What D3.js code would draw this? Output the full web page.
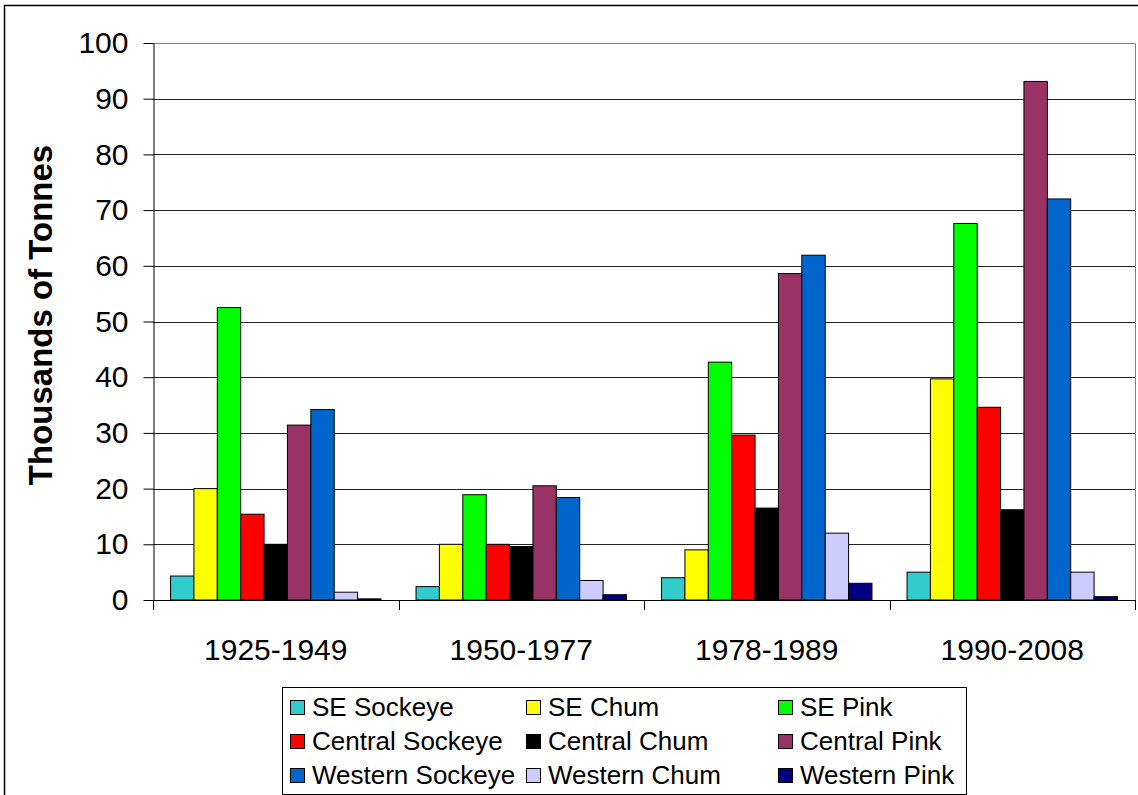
<!DOCTYPE html>
<html>
<head>
<meta charset="utf-8">
<script src="https://cdn.jsdelivr.net/npm/d3@7"></script>
<style>
  body { margin: 0; background: #fff; }
  svg { display: block; }
</style>
</head>
<body>
<svg id="chart"></svg>
<script>
// periods on the x axis
const periods = ["1925-1949", "1950-1977", "1978-1989", "1990-2008"]

// one array per series, thousands of tonnes, one value per period
const seSockeye = [4.3, 2.4, 4.0, 5.0]
const seChum = [20.0, 10.0, 9.0, 39.7]
const sePink = [52.5, 18.9, 42.7, 67.6]
const centralSockeye = [15.4, 10.0, 29.6, 34.6]
const centralChum = [10.0, 9.6, 16.5, 16.2]
const centralPink = [31.4, 20.5, 58.6, 93.1]
const westernSockeye = [34.2, 18.4, 61.9, 72.0]
const westernChum = [1.4, 3.5, 12.0, 5.0]
const westernPink = [0.2, 0.95, 3.0, 0.6]

const seriesNames = ["SE Sockeye", "SE Chum", "SE Pink",
    "Central Sockeye", "Central Chum", "Central Pink",
    "Western Sockeye", "Western Chum", "Western Pink"]
const seriesValues = [seSockeye, seChum, sePink,
    centralSockeye, centralChum, centralPink,
    westernSockeye, westernChum, westernPink]
const seriesColors = ["#33cccc", "#ffff00", "#00ff00",
    "#ff0000", "#000000", "#993366",
    "#0066cc", "#ccccff", "#000080"]

const yTicks = [0, 10, 20, 30, 40, 50, 60, 70, 80, 90, 100]

const width = 1138, height = 795
const plot = { left: 153, top: 43, right: 1135, bottom: 600 }
const font = "'Liberation Sans', Arial, Helvetica, sans-serif"

const svg = d3.select("svg#chart")
    .attr("width", width)
    .attr("height", height)
    .style("background-color", "#fff")

// outer chart frame (runs off the right and bottom of the picture)
svg.append("rect")
    .attr("x", 4.5).attr("y", 5.5)
    .attr("width", width + 20).attr("height", height + 20)
    .style("fill", "none")
    .style("stroke", "#000")
    .style("stroke-width", 1.5)

const x0 = d3.scaleBand()
    .domain(periods)
    .range([plot.left, plot.right])

const x1 = d3.scaleBand()
    .domain(seriesNames)
    .range([0, x0.bandwidth()])
    .paddingInner(0)
    .paddingOuter(0.75)

const y = d3.scaleLinear()
    .domain([0, 100])
    .range([plot.bottom, plot.top])

// horizontal gridlines
svg.append("g")
    .selectAll("line")
    .data(yTicks.filter(d => d > 0))
    .join("line")
    .attr("x1", plot.left).attr("x2", plot.right)
    .attr("y1", d => Math.round(y(d)) + 0.5)
    .attr("y2", d => Math.round(y(d)) + 0.5)
    .style("stroke", "#222")
    .style("stroke-width", 1)

// plot area border on top and right
svg.append("path")
    .attr("d", `M${plot.left},${plot.top + 0.5}H${plot.right + 0.5}V${plot.bottom}`)
    .style("fill", "none")
    .style("stroke", "#808080")
    .style("stroke-width", 1)

// bars
const groups = svg.append("g")
    .selectAll("g")
    .data(periods)
    .join("g")
    .attr("transform", d => `translate(${x0(d)},0)`)

groups.selectAll("rect")
    .data((p, i) => seriesNames.map((name, s) => ({ name: name, value: seriesValues[s][i], color: seriesColors[s] })))
    .join("rect")
    .attr("x", d => x1(d.name))
    .attr("y", d => y(d.value))
    .attr("width", x1.bandwidth())
    .attr("height", d => y(0) - y(d.value))
    .style("fill", d => d.color)
    .style("stroke", "#000")
    .style("stroke-width", 1)

// y axis
const yAxis = svg.append("g")
    .attr("transform", `translate(${plot.left + 0.5},0)`)
    .call(d3.axisLeft(y).tickValues(yTicks).tickSize(10).tickPadding(15).tickSizeOuter(0))
yAxis.select(".domain").style("stroke", "#000")
yAxis.selectAll(".tick line").style("stroke", "#000")
yAxis.selectAll(".tick text")
    .style("font-family", font)
    .style("font-size", "30px")
    .style("fill", "#000")

// x axis with ticks on category boundaries
svg.append("line")
    .attr("x1", plot.left).attr("x2", plot.right + 1)
    .attr("y1", plot.bottom + 0.5).attr("y2", plot.bottom + 0.5)
    .style("stroke", "#000")
const boundaries = periods.map(p => x0(p)).concat([plot.right])
svg.append("g")
    .selectAll("line")
    .data(boundaries)
    .join("line")
    .attr("x1", d => Math.round(d) + 0.5).attr("x2", d => Math.round(d) + 0.5)
    .attr("y1", plot.bottom).attr("y2", plot.bottom + 10)
    .style("stroke", "#000")

svg.append("g")
    .selectAll("text")
    .data(periods)
    .join("text")
    .text(d => d)
    .attr("x", d => x0(d) + x0.bandwidth() / 2)
    .attr("y", 660)
    .attr("text-anchor", "middle")
    .style("font-family", font)
    .style("font-size", "30px")
    .style("fill", "#000")

// y axis title
svg.append("text")
    .text("Thousands of Tonnes")
    .attr("transform", `translate(52,315) rotate(-90)`)
    .attr("text-anchor", "middle")
    .style("font-family", font)
    .style("font-size", "33px")
    .style("font-weight", "bold")
    .style("fill", "#000")

// legend
const legendBox = { x: 282, y: 687, width: 684, height: 107 }
const legendCols = [290, 526, 778]
const legendRows = [700, 734, 768]
const legend = svg.append("g")
legend.append("rect")
    .attr("x", legendBox.x + 0.5).attr("y", legendBox.y + 0.5)
    .attr("width", legendBox.width).attr("height", legendBox.height)
    .style("fill", "#fff")
    .style("stroke", "#000")
    .style("stroke-width", 1)

const items = legend.selectAll("g.item")
    .data(seriesNames)
    .join("g")
    .attr("class", "item")
    .attr("transform", (d, i) => `translate(${legendCols[i % 3]},${legendRows[Math.floor(i / 3)]})`)
items.append("rect")
    .attr("x", 0.5).attr("y", 0.5)
    .attr("width", 14).attr("height", 14)
    .style("fill", (d, i) => seriesColors[i])
    .style("stroke", "#000")
items.append("text")
    .text(d => d)
    .attr("x", 22)
    .attr("y", 16)
    .style("font-family", font)
    .style("font-size", "26px")
    .style("fill", "#000")
</script>
</body>
</html>
